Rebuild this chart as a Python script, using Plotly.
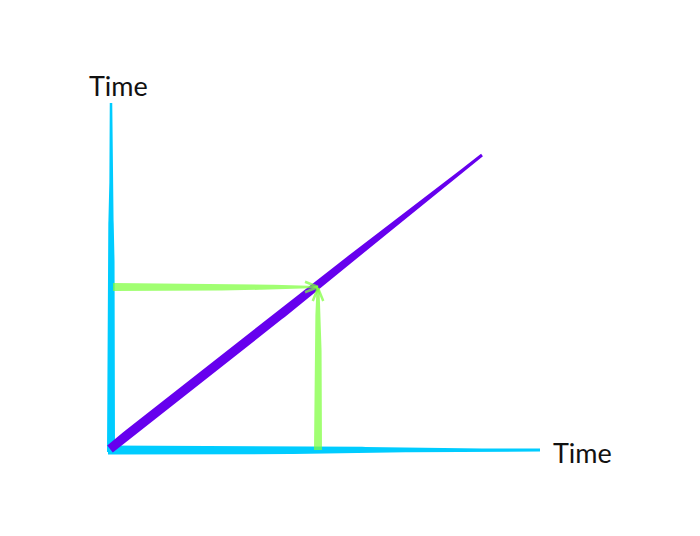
import numpy as np
import plotly.graph_objects as go

# Diagram geometry (units = screen pixels measured from the origin, y up)
axis_labels = ["Time", "Time"]
y_axis_start = [1, -3]
y_axis_end = [1, 346]
x_axis_start = [-2, -1]
x_axis_end = [430, -1]
diag_start = [0, 0]
diag_end = [372, 294]
point_x = 208
point_y = 162

CYAN = "#00ccff"
PURPLE = "#6600ee"
GREEN = "rgba(125,255,60,0.72)"


def stroke(p0, p1, stops_t, stops_w, n=120):
    p0 = np.array(p0, float)
    p1 = np.array(p1, float)
    t = np.linspace(0, 1, n)
    w = np.interp(t, stops_t, stops_w)
    d = p1 - p0
    d = d / np.linalg.norm(d)
    nrm = np.array([-d[1], d[0]])
    pts = p0[None, :] + t[:, None] * (p1 - p0)[None, :]
    left = pts + nrm[None, :] * (w[:, None] / 2)
    right = pts - nrm[None, :] * (w[:, None] / 2)
    poly = np.vstack([left, right[::-1], left[:1]])
    return poly[:, 0], poly[:, 1]


fig = go.Figure()


def add_stroke(p0, p1, st, sw, color):
    xs, ys = stroke(p0, p1, st, sw)
    fig.add_trace(go.Scatter(x=xs, y=ys, mode="lines", fill="toself",
                             fillcolor=color, line=dict(width=0, color=color),
                             hoverinfo="skip", showlegend=False))


def add_arrowhead(tip, direction, color):
    tip = np.array(tip, float)
    d = np.array(direction, float)
    d = d / np.linalg.norm(d)
    for ang in (np.radians(22), -np.radians(22)):
        c, s = np.cos(ang), np.sin(ang)
        back = -np.array([c * d[0] - s * d[1], s * d[0] + c * d[1]]) * 14
        fig.add_trace(go.Scatter(x=[tip[0], tip[0] + back[0]], y=[tip[1], tip[1] + back[1]],
                                 mode="lines", line=dict(color=color, width=2.5),
                                 hoverinfo="skip", showlegend=False))


# cyan axes
add_stroke(y_axis_start, y_axis_end, [0, 0.6, 0.72, 1.0], [8, 7, 3.5, 2.5], CYAN)
add_stroke(x_axis_start, x_axis_end, [0, 0.49, 0.78, 1.0], [9, 8, 3, 3], CYAN)
# purple diagonal
add_stroke(diag_start, diag_end, [0, 0.02, 0.55, 0.85, 1.0], [9, 10, 9.5, 4, 3], PURPLE)
# green guide arrows
add_stroke([3, point_y], [point_x, point_y], [0, 0.65, 0.93, 1.0], [8, 6.5, 2.5, 2], GREEN)
add_arrowhead([point_x, point_y], [1, 0], GREEN)
add_stroke([point_x, -1], [point_x, point_y - 1], [0, 0.7, 1.0], [8, 7, 3], GREEN)
add_arrowhead([point_x, point_y - 1], [0, 1], GREEN)

fig.add_annotation(x=8, y=364, text=axis_labels[0], showarrow=False,
                   font=dict(family="Lato", size=27, color="#111111"))
fig.add_annotation(x=472, y=-3, text=axis_labels[1], showarrow=False,
                   font=dict(family="Lato", size=27, color="#111111"))

fig.update_layout(
    width=700, height=536,
    margin=dict(l=0, r=0, t=0, b=0),
    paper_bgcolor="white", plot_bgcolor="white",
    xaxis=dict(range=[-102, 598], visible=False, fixedrange=True),
    yaxis=dict(range=[-95, 441], visible=False, fixedrange=True),
    showlegend=False,
)

fig.write_html("out.html")
